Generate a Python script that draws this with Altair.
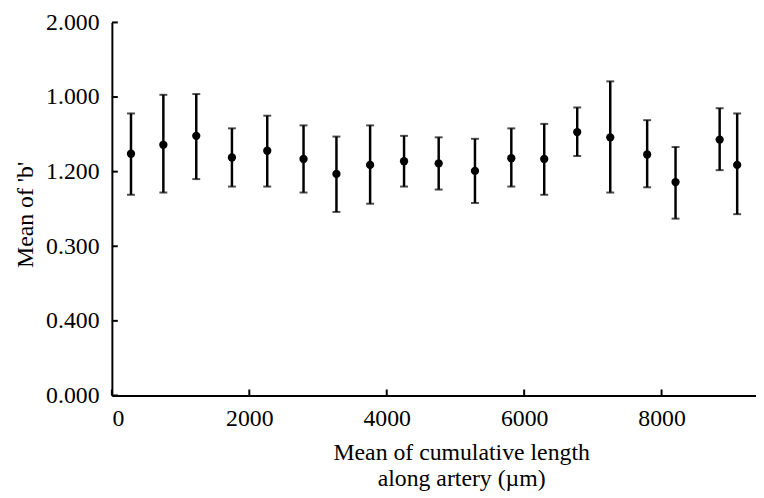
import altair as alt
import pandas as pd

# Mean cumulative length along artery (µm)
length = [278, 749, 1228, 1747, 2261, 2789, 3268, 3758, 4252, 4756,
          5284, 5813, 6292, 6772, 7253, 7790, 8203, 8845, 9100]
# Mean of 'b' and its error-bar ends (plotted in axis units)
mean_b = [0.324, 0.336, 0.348, 0.319, 0.328, 0.317, 0.297, 0.309, 0.314, 0.311,
          0.301, 0.318, 0.317, 0.353, 0.346, 0.323, 0.286, 0.343, 0.309]
upper = [0.378, 0.403, 0.404, 0.358, 0.375, 0.362, 0.347, 0.362, 0.348, 0.346,
         0.344, 0.358, 0.364, 0.386, 0.421, 0.369, 0.333, 0.385, 0.378]
lower = [0.269, 0.272, 0.290, 0.280, 0.280, 0.272, 0.246, 0.257, 0.280, 0.276,
         0.258, 0.280, 0.269, 0.321, 0.272, 0.279, 0.237, 0.302, 0.243]

x_ticks = [0, 2000, 4000, 6000, 8000]
y_ticks = [0, 0.1, 0.2, 0.3, 0.4, 0.5]
y_tick_labels = ["0.000", "0.400", "0.300", "1.200", "1.000", "2.000"]

df = pd.DataFrame({"x": length, "y": mean_b, "hi": upper, "lo": lower})
xt = pd.DataFrame({"v": x_ticks})
yt = pd.DataFrame({"v": y_ticks})

FONT = "Liberation Serif, Times New Roman, serif"
FS = 24
xscale = alt.Scale(domain=[0, 9374], nice=False, zero=False)
yscale = alt.Scale(domain=[0, 0.5], nice=False)

label_expr = " : ".join(
    f"abs(datum.value - {v}) < 1e-6 ? '{t}'" for v, t in zip(y_ticks, y_tick_labels)
) + " : ''"

xaxis = alt.Axis(values=x_ticks, format="d", ticks=False, grid=False,
                 domainColor="black", domainWidth=2, labelColor="black",
                 labelFont=FONT, labelFontSize=FS, labelPadding=11,
                 title=["Mean of cumulative length", "along artery (\u00b5m)"],
                 titleFont=FONT, titleFontSize=FS, titleFontWeight="normal",
                 titleColor="black", titleX=353, titleY=65, titleAlign="center",
                 titleBaseline="alphabetic", titleLineHeight=26)
yaxis = alt.Axis(values=y_ticks, labelExpr=label_expr, ticks=False, grid=False,
                 domainColor="black", domainWidth=2, labelColor="black",
                 labelFont=FONT, labelFontSize=FS, labelPadding=13,
                 title="Mean of 'b'", titleFont=FONT, titleFontSize=FS,
                 titleFontWeight="normal", titleColor="black", titleX=-80,
                 titleY=194,
                 titleAngle=-90, titleBaseline="alphabetic", titleAlign="center")

base = alt.Chart(df)

bars = base.mark_rule(color="black", strokeWidth=2.5).encode(
    x=alt.X("x:Q", scale=xscale, axis=xaxis),
    y=alt.Y("lo:Q", scale=yscale, axis=yaxis),
    y2="hi:Q",
)
cap_hi = base.mark_tick(color="black", orient="horizontal", size=8, thickness=2).encode(
    x=alt.X("x:Q", scale=xscale), y=alt.Y("hi:Q", scale=yscale))
cap_lo = base.mark_tick(color="black", orient="horizontal", size=8, thickness=2).encode(
    x=alt.X("x:Q", scale=xscale), y=alt.Y("lo:Q", scale=yscale))
pts = base.mark_circle(color="black", opacity=1, size=70).encode(
    x=alt.X("x:Q", scale=xscale), y=alt.Y("y:Q", scale=yscale))

xticks_in = alt.Chart(xt).mark_rule(color="black", strokeWidth=2).encode(
    x=alt.X("v:Q", scale=xscale), y=alt.value(377), y2=alt.value(371))
yticks_in = alt.Chart(yt).mark_rule(color="black", strokeWidth=2).encode(
    y=alt.Y("v:Q", scale=yscale), x=alt.value(0), x2=alt.value(6))

chart = alt.layer(bars, cap_hi, cap_lo, pts, xticks_in, yticks_in).properties(
    width=651, height=377,
    autosize=alt.AutoSizeParams(type="none"),
    padding={"left": 105, "top": 12, "right": 0, "bottom": 96},
    background="white",
).configure_view(stroke=None)

chart.save("out.html", embed_options={"renderer": "svg", "actions": False})
